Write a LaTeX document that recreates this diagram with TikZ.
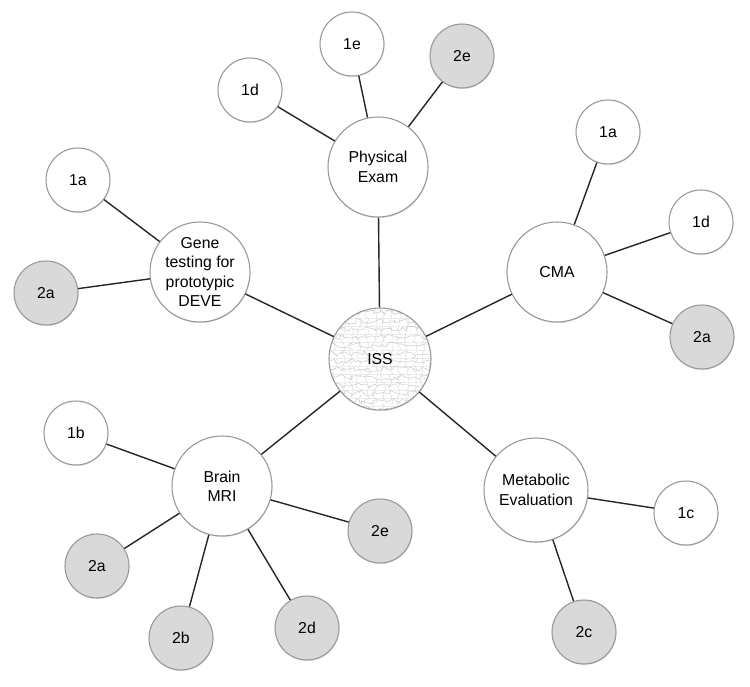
\documentclass[tikz,border=0pt]{standalone}
\usepackage{fontspec}
\setmainfont{Liberation Sans}
\usepackage{tikz}
\usetikzlibrary{shadows,decorations.pathmorphing}
\definecolor{leafGray}{RGB}{217,217,217}
\definecolor{rimGray}{RGB}{150,150,150}

\begin{document}
\begin{tikzpicture}[
        x=0.2mm, y=-0.2mm,
        hub/.style={circle, draw=rimGray, fill=white, line width=0.6pt,
          minimum size=2cm, inner sep=0pt, font=\fontsize{9}{11}\selectfont,
          align=center, drop shadow={opacity=0.25, shadow xshift=0.2pt, shadow yshift=-0.6pt}},
        leaf/.style={circle, draw=rimGray, fill=white, line width=0.6pt,
          minimum size=1.28cm, inner sep=0pt, font=\fontsize{9}{11}\selectfont,
          drop shadow={opacity=0.25, shadow xshift=0.2pt, shadow yshift=-0.6pt}},
        leafgray/.style={leaf, fill=leafGray},
        scribble/.style={draw=gray!45, line width=0.25pt, decorate,
          decoration={random steps, segment length=2pt, amplitude=1.6pt}},
        link/.style={line width=0.8pt, black!85}
      ]
        \useasboundingbox (0,0) rectangle (750,687);
        \pgfmathsetseed{11}
        \node[hub, minimum size=2.04cm, path picture={
            \foreach \k in {-50,-42,...,50} {
              \draw[gray!15, line width=0.3pt] ([yshift=\k*0.2mm+0.6mm]path picture bounding box.west)
                -- ([yshift=\k*0.2mm+0.6mm]path picture bounding box.east);
              \draw[scribble] ([yshift=\k*0.2mm]path picture bounding box.west)
                -- ([yshift=\k*0.2mm]path picture bounding box.east);
              \draw[scribble, draw=gray!30] ([xshift=\k*0.2mm+1mm]path picture bounding box.north)
                -- ([xshift=\k*0.2mm+1mm]path picture bounding box.south);
            }
          }] (iss) at (380,359) {ISS};
        \node[hub] (exam) at (378,167) {Physical\\Exam};
        \node[hub] (gene) at (200,272) {Gene\\testing for\\prototypic\\DEVE};
        \node[hub] (cma) at (557,272) {CMA};
        \node[hub] (mri) at (222,486) {Brain\\MRI};
        \node[hub, minimum size=2.08cm] (metab) at (536,490) {Metabolic\\Evaluation};
        \node[leaf] (exam1d) at (250,90) {1d};
        \node[leaf] (exam1e) at (352,44) {1e};
        \node[leafgray] (exam2e) at (462,56) {2e};
        \node[leaf] (gene1a) at (78,180) {1a};
        \node[leafgray] (gene2a) at (46,293) {2a};
        \node[leaf] (cma1a) at (608,132) {1a};
        \node[leaf] (cma1d) at (701,222) {1d};
        \node[leafgray] (cma2a) at (702,337) {2a};
        \node[leaf] (mri1b) at (76,433) {1b};
        \node[leafgray] (mri2a) at (97,566) {2a};
        \node[leafgray] (mri2b) at (181,638) {2b};
        \node[leafgray] (mri2d) at (307,628) {2d};
        \node[leafgray] (mri2e) at (380,531) {2e};
        \node[leaf] (metab1c) at (686,513) {1c};
        \node[leafgray] (metab2c) at (584,632) {2c};
        \draw[link] (iss) -- (exam);
        \draw[link] (iss) -- (gene);
        \draw[link] (iss) -- (cma);
        \draw[link] (iss) -- (mri);
        \draw[link] (iss) -- (metab);
        \draw[link] (exam) -- (exam1d);
        \draw[link] (exam) -- (exam1e);
        \draw[link] (exam) -- (exam2e);
        \draw[link] (gene) -- (gene1a);
        \draw[link] (gene) -- (gene2a);
        \draw[link] (cma) -- (cma1a);
        \draw[link] (cma) -- (cma1d);
        \draw[link] (cma) -- (cma2a);
        \draw[link] (mri) -- (mri1b);
        \draw[link] (mri) -- (mri2a);
        \draw[link] (mri) -- (mri2b);
        \draw[link] (mri) -- (mri2d);
        \draw[link] (mri) -- (mri2e);
        \draw[link] (metab) -- (metab1c);
        \draw[link] (metab) -- (metab2c);
      \end{tikzpicture}
\end{document}
